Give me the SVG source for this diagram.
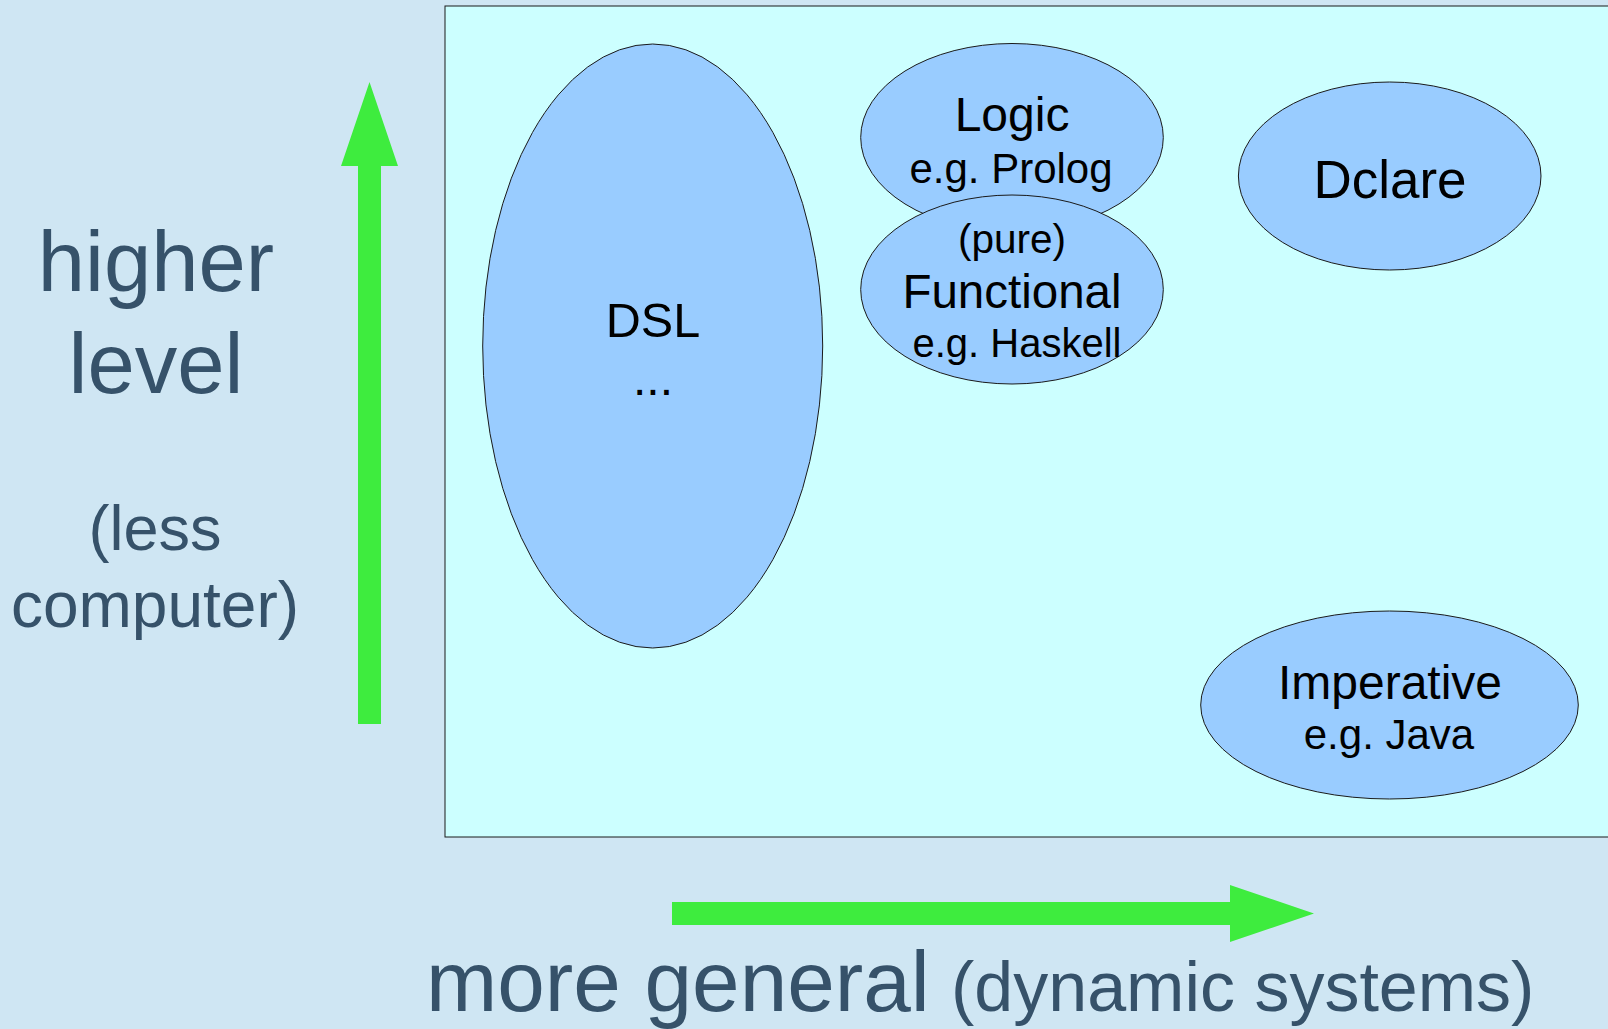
<svg xmlns="http://www.w3.org/2000/svg" width="1608" height="1029" viewBox="0 0 1608 1029">
  <style>
    .node { fill: #99ccff; stroke: #1a1a1a; stroke-width: 1; }
    .ntext { font-family: "Liberation Sans", Arial, sans-serif; fill: #000000; text-anchor: middle; }
    .axis { font-family: "Liberation Sans", Arial, sans-serif; fill: #36526a; }
    .arrow { fill: #3eec3e; }
  </style>
  <rect x="0" y="0" width="1608" height="1029" fill="#cfe6f3"/>
  <rect id="frame" x="445" y="6" width="1200" height="831" fill="#ccffff" stroke="#1a1a1a" stroke-width="1"/>

  <g id="connectors">
    <polygon class="arrow" points="358,724 381,724 381,166 398,166 369.5,82 341,166 358,166"/>
    <polygon class="arrow" points="672,902 1230,902 1230,885 1314,913.5 1230,942 1230,925 672,925"/>
  </g>

  <g id="label-higher" class="axis" text-anchor="middle">
    <text x="156" y="291" font-size="85">higher</text>
    <text x="156" y="393" font-size="85">level</text>
    <text x="155" y="550" font-size="63">(less</text>
    <text x="155" y="627" font-size="64">computer)</text>
  </g>
  <g id="label-general" class="axis">
    <text x="426" y="1011" font-size="85.5">more general</text>
    <text x="951" y="1011" font-size="70">(dynamic systems)</text>
  </g>

  <g id="node-dsl">
    <ellipse class="node" cx="652.7" cy="346" rx="170" ry="302"/>
    <text class="ntext" x="653" y="337" font-size="48.5">DSL</text>
    <text class="ntext" x="653" y="395" font-size="48">...</text>
  </g>

  <g id="node-logic">
    <ellipse class="node" cx="1012" cy="137.5" rx="151.3" ry="94"/>
    <text class="ntext" x="1012" y="131" font-size="48">Logic</text>
    <text class="ntext" x="1011" y="183" font-size="42">e.g. Prolog</text>
  </g>

  <g id="node-functional">
    <ellipse class="node" cx="1012" cy="289.5" rx="151.3" ry="94.5"/>
    <text class="ntext" x="1012" y="253" font-size="40.5">(pure)</text>
    <text class="ntext" x="1012" y="308" font-size="47.5">Functional</text>
    <text class="ntext" x="1017" y="356.5" font-size="40">e.g. Haskell</text>
  </g>

  <g id="node-dclare">
    <ellipse class="node" cx="1389.7" cy="176" rx="151.3" ry="94"/>
    <text class="ntext" x="1390" y="198" font-size="53">Dclare</text>
  </g>

  <g id="node-imperative">
    <ellipse class="node" cx="1389.5" cy="705" rx="188.8" ry="94"/>
    <text class="ntext" x="1390" y="699" font-size="48">Imperative</text>
    <text class="ntext" x="1389" y="749" font-size="42">e.g. Java</text>
  </g>
</svg>
